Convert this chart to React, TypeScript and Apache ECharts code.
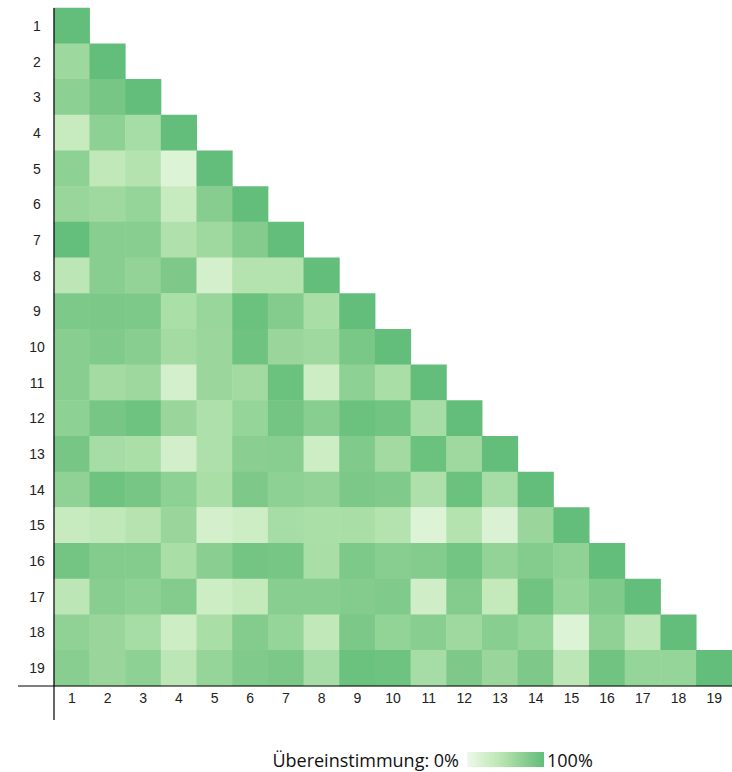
import React, { useEffect, useRef } from "react";
import * as echarts from "echarts";

const labels: string[] = Array.from({ length: 19 }, (_, i) => String(i + 1));

// lower-triangle agreement values (%), row r has columns 1..r-1
const row2 = [62];
const row3 = [72, 86];
const row4 = [33, 71, 56];
const row5 = [71, 39, 47, 15];
const row6 = [65, 60, 66, 33, 76];
const row7 = [99, 75, 75, 50, 60, 78];
const row8 = [42, 75, 68, 81, 22, 47, 47];
const row9 = [82, 83, 82, 53, 65, 94, 78, 54];
const row10 = [75, 80, 75, 58, 63, 92, 64, 60, 84];
const row11 = [75, 58, 61, 22, 63, 59, 94, 28, 71, 54];
const row12 = [71, 86, 92, 64, 51, 66, 88, 75, 94, 90, 56];
const row13 = [86, 56, 53, 24, 51, 74, 75, 28, 80, 59, 94, 60];
const row14 = [70, 92, 86, 71, 54, 81, 71, 68, 83, 80, 51, 94, 56];
const row15 = [33, 39, 46, 64, 22, 28, 56, 53, 54, 47, 15, 47, 17, 64];
const row16 = [88, 78, 78, 54, 74, 88, 86, 54, 82, 75, 78, 89, 68, 78, 70];
const row17 = [42, 75, 71, 78, 28, 36, 75, 75, 78, 80, 26, 78, 36, 91, 66, 80];
const row18 = [70, 64, 56, 28, 54, 78, 66, 38, 83, 69, 75, 60, 75, 66, 15, 70, 42];
const row19 = [75, 64, 71, 42, 66, 80, 83, 56, 94, 92, 56, 81, 64, 81, 42, 91, 66, 66];
const diagonalValue = 100;

const lowerRows: number[][] = [
  [], row2, row3, row4, row5, row6, row7, row8, row9, row10,
  row11, row12, row13, row14, row15, row16, row17, row18, row19,
];

const scaleColors = [
  "#eef8ec", "#e2f5dd", "#d6f0cf", "#cbecc2", "#bfe7b7", "#b0e1ac",
  "#a0d9a0", "#90d295", "#80ca8b", "#71c482", "#63be7b",
];

const legendLabelLow = "Übereinstimmung: 0%";
const legendLabelHigh = "100%";

export default function App() {
  const ref = useRef<HTMLDivElement>(null);

  useEffect(() => {
    if (!ref.current) return;
    const chart = echarts.init(ref.current, null, { renderer: "svg" });

    const data: [number, number, number][] = [];
    lowerRows.forEach((vals, r) => {
      vals.forEach((v, c) => data.push([c, r, v]));
      data.push([r, r, diagonalValue]);
    });

    const axisFont = { fontFamily: "Liberation Sans, Arial, sans-serif", fontSize: 14, color: "#222" };
    const legendFont = "18px 'Open Sans', sans-serif";

    chart.setOption({
      animation: false,
      grid: { left: 54, top: 8, right: 0, bottom: 86 },
      xAxis: {
        type: "category",
        data: labels,
        axisLine: { show: false },
        axisTick: { show: false },
        splitLine: { show: false },
        axisLabel: { ...axisFont, margin: 5, interval: 0 },
      },
      yAxis: {
        type: "category",
        data: labels,
        inverse: true,
        axisLine: { show: false },
        axisTick: { show: false },
        splitLine: { show: false },
        axisLabel: { ...axisFont, margin: 17, align: "center", interval: 0 },
      },
      visualMap: {
        type: "continuous",
        min: 0,
        max: 100,
        show: false,
        inRange: { color: scaleColors },
      },
      graphic: [
        {
          type: "line",
          shape: { x1: 54, y1: 8, x2: 54, y2: 720 },
          style: { stroke: "#000", lineWidth: 1.2 },
          z: 100,
        },
        {
          type: "line",
          shape: { x1: 18, y1: 686, x2: 732, y2: 686 },
          style: { stroke: "#000", lineWidth: 1.2 },
          z: 100,
        },
        {
          type: "text",
          x: 459,
          y: 760,
          style: { text: legendLabelLow, font: legendFont, fill: "#111", textAlign: "right", textVerticalAlign: "middle" },
        },
        {
          type: "rect",
          shape: { x: 467, y: 752, width: 77, height: 15 },
          style: {
            fill: new echarts.graphic.LinearGradient(
              0, 0, 1, 0,
              scaleColors.map((c, i) => ({ offset: i / (scaleColors.length - 1), color: c }))
            ),
          },
        },
        {
          type: "text",
          x: 547,
          y: 760,
          style: { text: legendLabelHigh, font: legendFont, fill: "#111", textAlign: "left", textVerticalAlign: "middle" },
        },
      ],
      series: [
        {
          type: "heatmap",
          data,
          itemStyle: { borderWidth: 0 },
          emphasis: { disabled: true },
        },
      ],
    });

    return () => chart.dispose();
  }, []);

  return (
    <div
      ref={ref}
      style={{ position: "absolute", left: 0, top: 0, width: 732, height: 772, background: "#fff" }}
    />
  );
}
